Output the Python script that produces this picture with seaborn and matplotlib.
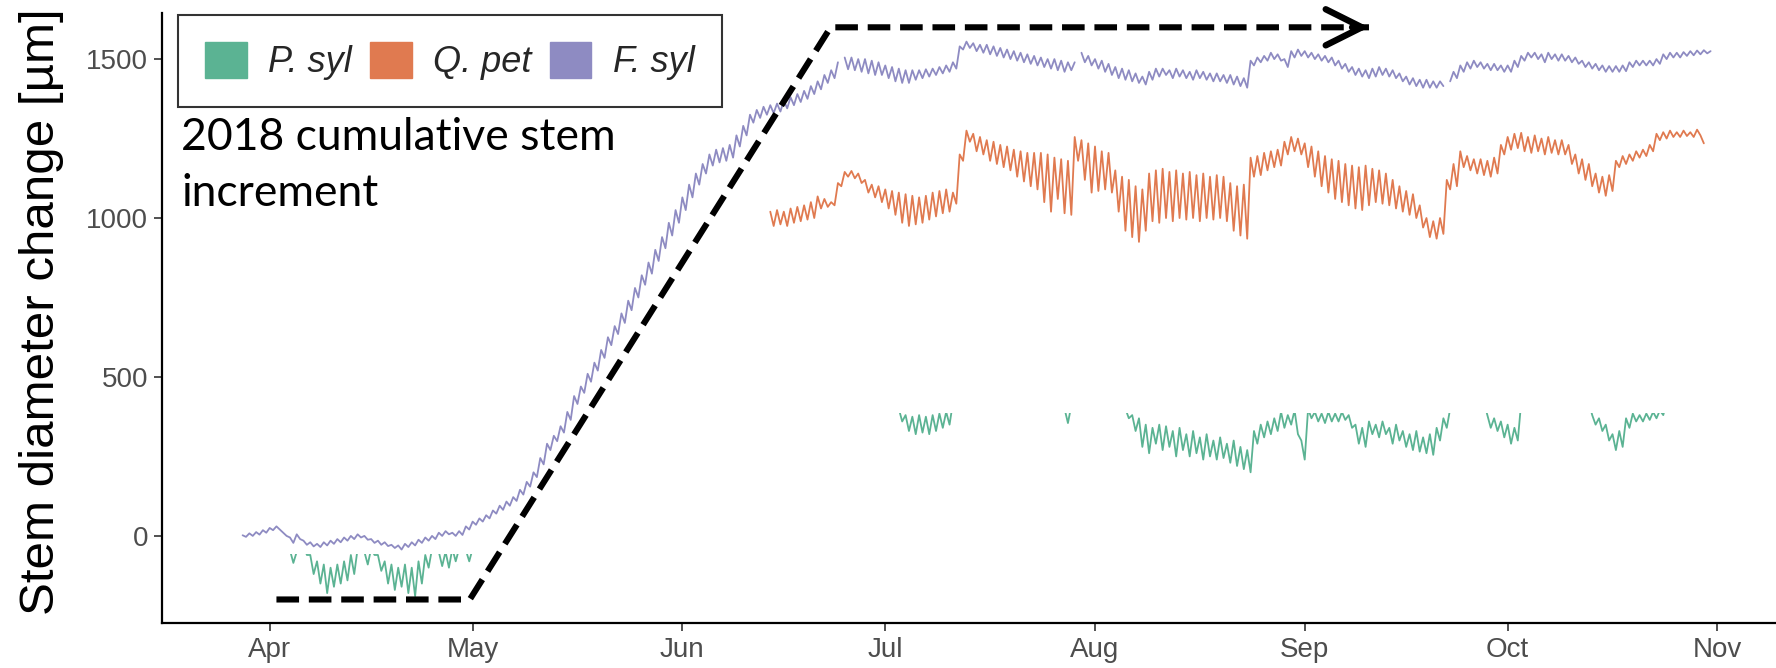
import matplotlib
matplotlib.use("Agg")
import numpy as np
import pandas as pd
import seaborn as sns
import matplotlib.pyplot as plt
import matplotlib.dates as mdates
from matplotlib.patches import Patch, Rectangle

# ---------------- data (12-hourly readings, µm) ----------------
species = ["P. syl", "Q. pet", "F. syl"]
colors = ["#5bb393", "#e07a50", "#8e8bc2"]
month_ticks = ["2018-04-01", "2018-05-01", "2018-06-01", "2018-07-01",
               "2018-08-01", "2018-09-01", "2018-10-01", "2018-11-01"]
month_labels = ["Apr", "May", "Jun", "Jul", "Aug", "Sep", "Oct", "Nov"]
yticks = [0, 500, 1000, 1500]

fsyl_start = "2018-03-28"
fsyl_mar = [2, -3, 8, 0, 12, 4, 18, 10]
fsyl_apr = [25, 18, 30, 20, 10, 0, -5, -22, 5, -10, -15, -28, -20, -33, -25, -35,
            -20, -30, -15, -25, -10, -20, -5, -15, 0, -10, 5, -5, 0, -12, -10, -22,
            -15, -28, -20, -32, -28, -38, -30, -43, -25, -35, -20, -30, -12, -22,
            -5, -15, 0, -10, 10, 0, 15, 5, 10, 0, 15, 3, 30, 20]
fsyl_may = [45, 35, 55, 45, 65, 55, 80, 70, 95, 82, 108, 95, 122, 110, 145, 130,
            170, 155, 200, 185, 245, 225, 290, 270, 315, 298, 345, 325, 390, 365,
            440, 415, 470, 450, 510, 485, 545, 520, 585, 560, 625, 600, 660, 635,
            700, 670, 740, 710, 780, 750, 820, 790, 860, 825, 900, 865, 940, 905,
            985, 945, 1025, 985]
fsyl_jun = [1065, 1025, 1105, 1065, 1140, 1105, 1170, 1140, 1200, 1165, 1215, 1175,
            1220, 1180, 1230, 1190, 1260, 1225, 1290, 1260, 1325, 1300, 1340, 1315,
            1350, 1325, 1355, 1330, 1360, 1335, 1370, 1345, 1380, 1355, 1390, 1365,
            1400, 1375, 1415, 1390, 1430, 1405, 1450, 1425, 1465, 1440, 1490, np.nan,
            1505, 1468, 1505, 1465, 1500, 1460, 1500, 1455, 1495, 1450, 1490, 1450]
fsyl_jul = [1480, 1440, 1475, 1430, 1470, 1425, 1465, 1425, 1465, 1435, 1465, 1440,
            1468, 1445, 1470, 1450, 1475, 1455, 1480, 1460, 1490, 1470, 1540, 1530,
            1555, 1535, 1550, 1525, 1545, 1520, 1545, 1515, 1540, 1510, 1535, 1505,
            1530, 1500, 1525, 1495, 1520, 1490, 1515, 1485, 1510, 1480, 1505, 1475,
            1500, 1470, 1500, 1465, 1495, 1460, 1490, 1465, 1490, np.nan, 1520, 1490,
            1510, 1480]
fsyl_aug = [1500, 1470, 1495, 1460, 1485, 1450, 1475, 1440, 1470, 1435, 1465, 1430,
            1455, 1425, 1445, 1420, 1460, 1435, 1470, 1445, 1470, 1450, 1465, 1440,
            1470, 1445, 1465, 1440, 1460, 1435, 1465, 1440, 1460, 1435, 1455, 1430,
            1455, 1430, 1450, 1425, 1450, 1420, 1445, 1415, 1440, 1410, 1495, 1480,
            1505, 1490, 1510, 1495, 1520, 1500, 1515, 1495, 1500, 1475, 1525, 1505,
            1530, 1510]
fsyl_sep = [1525, 1505, 1520, 1500, 1515, 1495, 1510, 1490, 1505, 1480, 1495, 1470,
            1485, 1460, 1475, 1450, 1470, 1445, 1465, 1440, 1470, 1445, 1475, 1450,
            1470, 1445, 1465, 1440, 1455, 1430, 1445, 1420, 1440, 1415, 1435, 1410,
            1435, 1410, 1430, 1410, 1430, 1415, np.nan, 1430, 1460, 1440, 1480, 1460,
            1490, 1470, 1495, 1475, 1490, 1470, 1485, 1465, 1485, 1465, 1480, 1460]
fsyl_oct = [1480, 1460, 1495, 1475, 1510, 1495, 1520, 1505, 1520, 1500, 1515, 1490,
            1520, 1500, 1515, 1495, 1515, 1495, 1510, 1490, 1505, 1485, 1495, 1475,
            1490, 1470, 1485, 1465, 1480, 1460, 1478, 1460, 1478, 1460, 1480, 1462,
            1490, 1475, 1495, 1480, 1495, 1480, 1495, 1480, 1500, 1485, 1515, 1500,
            1520, 1505, 1520, 1505, 1522, 1510, 1525, 1512, 1527, 1515, 1528, 1518,
            1525]

qpet_start = "2018-06-14"
qpet_jun = [1020, 975, 1025, 980, 1020, 975, 1030, 985, 1035, 990, 1040, 995,
            1050, 1000, 1068, 1030, 1060, 1035, 1050, 1040, 1110, 1100, 1145, 1130,
            1148, 1125, 1140, 1110, 1120, 1080, 1105, 1065, 1100, 1050]
qpet_jul = [1090, 1030, 1085, 1010, 1080, 985, 1075, 975, 1070, 980, 1065, 985,
            1070, 995, 1080, 1005, 1085, 1015, 1090, 1020, 1080, 1045, 1200, 1180,
            1275, 1240, 1265, 1210, 1255, 1200, 1245, 1180, 1240, 1170, 1230, 1160,
            1225, 1150, 1215, 1130, 1210, 1115, 1205, 1100, 1205, 1090, 1205, 1050,
            1200, 1020, 1190, 1060, 1185, 1015, 1180, 1010, 1255, 1180, 1245, 1120,
            1235, 1080]
qpet_aug = [1225, 1085, 1210, 1090, 1205, 1080, 1150, 1020, 1130, 960, 1120, 940,
            1100, 925, 1090, 960, 1140, 990, 1150, 985, 1155, 1000, 1145, 990,
            1150, 1000, 1140, 995, 1145, 1000, 1135, 990, 1140, 1000, 1130, 995,
            1135, 1000, 1130, 990, 1110, 960, 1100, 945, 1105, 935, 1190, 1130,
            1195, 1135, 1205, 1150, 1210, 1160, 1215, 1165, 1240, 1200, 1255, 1210,
            1250, 1200]
qpet_sep = [1235, 1160, 1225, 1130, 1210, 1100, 1195, 1080, 1185, 1060, 1180, 1050,
            1170, 1040, 1165, 1030, 1160, 1025, 1165, 1040, 1155, 1050, 1150, 1045,
            1140, 1040, 1120, 1030, 1100, 1020, 1085, 1010, 1075, 1000, 1040, 970,
            1000, 940, 990, 935, 1000, 950, 1120, 1090, 1170, 1100, 1210, 1160,
            1195, 1150, 1185, 1140, 1185, 1135, 1180, 1130, 1190, 1140, 1230, 1200]
qpet_oct = [1255, 1215, 1265, 1220, 1268, 1210, 1255, 1205, 1260, 1210, 1250, 1200,
            1255, 1205, 1245, 1200, 1245, 1200, 1230, 1170, 1200, 1140, 1185, 1120,
            1170, 1100, 1140, 1080, 1130, 1070, 1135, 1085, 1180, 1160, 1195, 1170,
            1200, 1180, 1210, 1190, 1215, 1195, 1230, 1210, 1265, 1245, 1270, 1250,
            1275, 1255, 1270, 1255, 1275, 1258, 1270, 1255, 1278, 1260, 1235]

psyl_spring_start = "2018-04-03"
psyl_spring = [-40, -50, -45, -85, -50, -40, -30, -60, -60, -120, -80, -150,
               -90, -180, -100, -160, -90, -150, -80, -140, -60, -120, -40, -50,
               -50, -90, -40, -60, -60, -110, -80, -150, -90, -170, -100, -160,
               -90, -180, -100, -190, -80, -150, -60, -100, -40, -50, -50, -95,
               -50, -100, -40, -80, -40, -50, -45, -80, -40, -50]
psyl_summer_start = "2018-07-02"
psyl_summer = [420, 410, 400, 360, 380, 330, 375, 320, 380, 325, 375, 320,
               380, 330, 385, 340, 390, 350, 420, np.nan, np.nan, np.nan, np.nan, np.nan,
               np.nan, np.nan, np.nan, np.nan, np.nan, np.nan, np.nan, np.nan, np.nan, np.nan,
               np.nan, np.nan, np.nan, np.nan, np.nan, np.nan, np.nan, np.nan, np.nan, np.nan,
               np.nan, np.nan, np.nan, np.nan, np.nan, np.nan, 420, 400, 355, 410, 420,
               np.nan, np.nan, np.nan, np.nan, np.nan, np.nan, np.nan, np.nan, np.nan,
               np.nan, np.nan, np.nan, np.nan, 420, 400, 370, 380, 330, 370, 280, 350, 260,
               340, 290, 350, 270, 345, 280, 330, 250, 340, 270, 320, 250, 330, 260,
               310, 240, 320, 250, 300, 240, 310, 245, 290, 230, 300, 220, 280, 210,
               270, 200, 330, 290, 350, 310, 360, 320, 370, 330, 390, 340, 380, 350,
               395, 320, 300, 240, 400, 370, 390, 360, 385, 355, 390, 360, 385, 360,
               390, 365, 380, 340, 350, 290, 340, 280, 360, 320, 350, 310, 360, 320,
               340, 290, 350, 300, 330, 280, 320, 270, 330, 265, 310, 260, 320, 255,
               340, 300, 370, 340, 400, 420, np.nan, np.nan, np.nan, np.nan, np.nan,
               np.nan, np.nan, np.nan, 420, 380, 340, 370, 330, 360, 310, 350, 290,
               340, 300, 420, np.nan, np.nan, np.nan, np.nan, np.nan, np.nan, np.nan,
               np.nan, np.nan, np.nan, np.nan, np.nan, np.nan, np.nan, np.nan, np.nan,
               np.nan, np.nan, np.nan, 420, 380, 350, 370, 330, 350, 300, 320, 270,
               330, 280, 370, 340, 385, 360, 380, 360, 385, 365, 390, 370, 395, 380, 420]

# growth-phase schematic (dashed arrow)
phase_dates = ["2018-04-02 00:00", "2018-04-30 14:00", "2018-06-22 22:00", "2018-09-10 12:00"]
phase_values = [-200, -200, 1600, 1600]

xlim = ["2018-03-16 02:00", "2018-11-09 16:00"]
ylim = [-274, 1645]


def frame(start, values, name):
    v = np.array(values, dtype=float)
    t = pd.date_range(start, periods=len(v), freq="12h")
    seg = np.cumsum(np.isnan(v))
    df = pd.DataFrame({"time": t, "value": v, "seg": seg, "species": name})
    return df.dropna()


fsyl = frame(fsyl_start, fsyl_mar + fsyl_apr + fsyl_may + fsyl_jun + fsyl_jul
             + fsyl_aug + fsyl_sep + fsyl_oct, "F. syl")
qpet = frame(qpet_start, qpet_jun + qpet_jul + qpet_aug + qpet_sep + qpet_oct, "Q. pet")
psyl_a = frame(psyl_spring_start, psyl_spring, "P. syl")
psyl_b = frame(psyl_summer_start, psyl_summer, "P. syl")

# ---------------- figure ----------------
sns.set_theme(style="ticks")
plt.rcParams["font.family"] = ["Liberation Sans", "DejaVu Sans"]

fig = plt.figure(figsize=(17.76, 6.68), dpi=100)
ax = fig.add_axes([162 / 1776, 1 - 623 / 668, 1 - 162 / 1776, (623 - 13) / 668])

lw = 1.3
n0 = len(ax.lines)
sns.lineplot(data=psyl_a, x="time", y="value", units="seg", estimator=None,
             color=colors[0], lw=lw, ax=ax)
n1 = len(ax.lines)
sns.lineplot(data=psyl_b, x="time", y="value", units="seg", estimator=None,
             color=colors[0], lw=lw, ax=ax)
n2 = len(ax.lines)
sns.lineplot(data=qpet, x="time", y="value", units="seg", estimator=None,
             color=colors[1], lw=lw, ax=ax)
sns.lineplot(data=fsyl, x="time", y="value", units="seg", estimator=None,
             color=colors[2], lw=lw, ax=ax)

# masked parts of P. syl
clip_a = Rectangle((mdates.date2num(pd.Timestamp("2018-03-20")), -400),
                   60, 400 - 57, transform=ax.transData)
clip_b = Rectangle((mdates.date2num(pd.Timestamp("2018-06-01")), -400),
                   200, 400 + 387, transform=ax.transData)
for ln in ax.lines[n0:n1]:
    ln.set_clip_path(clip_a)
for ln in ax.lines[n1:n2]:
    ln.set_clip_path(clip_b)

# dashed schematic with arrow head
px = pd.to_datetime(phase_dates, format="%Y-%m-%d %H:%M")
ax.plot(px, phase_values, color="black", lw=4.4, linestyle=(0, (3.7, 1.6)),
        solid_capstyle="butt", dash_capstyle="butt", zorder=5)
ax.annotate("", xy=(px[-1], phase_values[-1]),
            xytext=(px[-1] - pd.Timedelta(days=2.5), phase_values[-1]),
            arrowprops=dict(arrowstyle="->,head_length=1.3,head_width=0.65",
                            lw=4.6, color="black", capstyle="round",
                            joinstyle="round", shrinkA=0, shrinkB=0,
                            mutation_scale=20), zorder=6)

ax.set_xlim(pd.to_datetime(xlim, format="%Y-%m-%d %H:%M"))
ax.set_ylim(ylim)
ax.set_xticks(pd.to_datetime(month_ticks))
ax.set_xticklabels(month_labels)
ax.set_yticks(yticks)
ax.set_yticklabels([str(v) for v in yticks])
ax.tick_params(axis="both", labelsize=20, labelcolor="#4d4d4d", color="#333333",
               length=6, width=1.2, pad=4)
ax.set_xlabel("")
ax.set_ylabel("Stem diameter change [µm]", fontsize=35.5, color="black")
ax.yaxis.set_label_coords(-0.0605, 0.51)
for s in ["top", "right"]:
    ax.spines[s].set_visible(False)
for s in ["left", "bottom"]:
    ax.spines[s].set_linewidth(1.6)
    ax.spines[s].set_color("black")

handles = [Patch(facecolor=c, edgecolor=c, alpha=1.0) for c in colors]
leg = fig.legend(handles, species, loc="upper left",
                 bbox_to_anchor=(178 / 1776, 1 - 15 / 668), ncol=3,
                 prop={"style": "italic", "size": 26, "family": "Liberation Sans"},
                 frameon=True, fancybox=False, edgecolor="black",
                 handlelength=1.15, handleheight=1.15, handletextpad=0.6,
                 columnspacing=0.5, borderpad=0.75, borderaxespad=0)
leg.get_frame().set_linewidth(1.5)

fig.text(181 / 1776, 1 - 117 / 668, "2018 cumulative stem\nincrement",
         fontsize=32, family=["Lato", "DejaVu Sans"], color="black",
         ha="left", va="top", linespacing=1.45)

fig.savefig("out.png", dpi=100)
